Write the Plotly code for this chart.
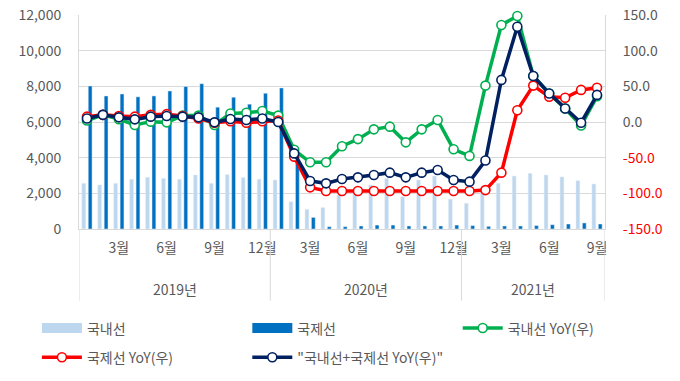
import plotly.graph_objects as go

# ---- data ----
months = [f"{y}-{m:02d}" for y in (2019, 2020) for m in range(1, 13)] + [f"2021-{m:02d}" for m in range(1, 10)]
tick_idx = [2, 5, 8, 11, 14, 17, 20, 23, 26, 29, 32]
tick_text = ["3월", "6월", "9월", "12월", "3월", "6월", "9월", "12월", "3월", "6월", "9월"]
years = ["2019년", "2020년", "2021년"]
year_start = [0, 12, 24]
year_len = [12, 12, 9]

domestic = [2560, 2470, 2560, 2790, 2900, 2840, 2790, 3030, 2560, 3050, 2880, 2790,
            2750, 1530, 1100, 1200, 1900, 2150, 2470, 2840, 1810, 2750, 2970, 1680,
            1440, 2300, 2560, 2970, 3120, 3030, 2920, 2710, 2520]
international = [8020, 7460, 7570, 7410, 7460, 7740, 7990, 8150, 6830, 7390, 7000, 7610,
                 7910, 3850, 650, 130, 130, 170, 220, 220, 170, 170, 170, 220,
                 190, 150, 170, 170, 190, 240, 280, 340, 280]
dom_yoy = [2, 10, 4, -4.2, 0.5, -0.5, 9, 9, -4.2, 12, 13, 15.4,
           9, -39, -56.5, -56.5, -34, -24, -10.3, -6.5, -28.5, -10.3, 2.8, -38.3,
           -47.5, 51, 136, 148.6, 64.5, 40, 19, -5, 36]
int_yoy = [7.5, 10, 8.4, 7.5, 10, 11, 8.4, 5, -1, 1, -1, 1,
           2, -48.6, -91.6, -96.7, -96.8, -96.8, -96.8, -96.8, -96.8, -96.8, -96.8, -96.8,
           -96.7, -95.5, -71, 16.4, 51, 35.5, 34, 45, 48]
tot_yoy = [5, 10, 6.5, 3.7, 7.5, 8.4, 7.5, 6.5, -0.5, 4.2, 2.8, 5,
           0, -44, -82.7, -86, -80, -77.6, -74.3, -71, -77.6, -71, -67.3, -81.3,
           -83.6, -54, 59, 133.6, 64.5, 40, 19, -1, 38]

left_ticks = [0, 2000, 4000, 6000, 8000, 10000, 12000]
right_ticks = [-150, -100, -50, 0, 50, 100, 150]

x = list(range(len(months)))
GRAY = "#595959"
FONT = "Noto Sans CJK KR"
C_DOM, C_INT = "#BDD7EE", "#0070C0"

fig = go.Figure()
fig.add_trace(go.Bar(x=x, y=domestic, name="국내선", marker_color=C_DOM, yaxis="y",
                     showlegend=False, legendgroup="dom"))
fig.add_trace(go.Bar(x=x, y=international, name="국제선", marker_color=C_INT, yaxis="y",
                     showlegend=False, legendgroup="int"))

def line(vals, name, color, legend, group):
    return go.Scatter(x=x, y=vals, name=name, yaxis="y2", mode="lines+markers",
                      legend=legend, legendgroup=group, cliponaxis=False,
                      line=dict(color=color, width=3.5),
                      marker=dict(size=9, color="white", line=dict(color=color, width=1.6)))

fig.add_trace(line(dom_yoy, "국내선 YoY(우)", "#00B050", "legend3", "g3"))
fig.add_trace(line(int_yoy, "국제선 YoY(우)", "#FF0000", "legend", "g4"))
fig.add_trace(line(tot_yoy, "\"국내선+국제선 YoY(우)\"", "#002060", "legend2", "g5"))

# legend swatches for the bar series (wide rectangles as in the original)
fig.add_trace(go.Scatter(x=[None], y=[None], name="국내선", mode="lines", legend="legend",
                         legendgroup="dom", legendrank=1, line=dict(color=C_DOM, width=12)))
fig.add_trace(go.Scatter(x=[None], y=[None], name="국제선", mode="lines", legend="legend2",
                         legendgroup="int", legendrank=1, line=dict(color=C_INT, width=12)))

right_text = [(f'<span style="color:#FF0000">{v:.1f}</span>' if v < 0 else f"{v:.1f}") for v in right_ticks]

shapes = []
bounds = [year_start[0] - 0.5] + [s + l - 0.5 for s, l in zip(year_start, year_len)]
for b in bounds:
    shapes.append(dict(type="line", xref="x", yref="paper", x0=b, x1=b, y0=0, y1=-0.335,
                       line=dict(color="#D9D9D9", width=1)))

annotations = []
for name, s, l in zip(years, year_start, year_len):
    annotations.append(dict(x=s + (l - 1) / 2, y=-0.28, xref="x", yref="paper", text=name,
                            showarrow=False, font=dict(family=FONT, size=14, color=GRAY),
                            yanchor="middle"))

leg_common = dict(orientation="v", xanchor="left", yanchor="top", y=-0.39,
                  font=dict(family=FONT, size=14, color=GRAY), traceorder="grouped",
                  tracegroupgap=8, bgcolor="rgba(0,0,0,0)", itemwidth=40)

fig.update_layout(
    width=680, height=381, autosize=False,
    margin=dict(l=79, r=75, t=15, b=152, autoexpand=False),
    paper_bgcolor="white", plot_bgcolor="white",
    barmode="group", bargap=0.2, bargroupgap=0.4,
    font=dict(family=FONT, size=14, color=GRAY),
    xaxis=dict(range=[-0.5, len(months) - 0.5], tickmode="array", tickvals=tick_idx,
               ticktext=tick_text, showgrid=False, showline=True, linecolor="#D9D9D9",
               ticks="", ticklabelstandoff=6, tickfont=dict(size=14, color=GRAY), zeroline=False),
    yaxis=dict(range=[0, 12000], tickvals=left_ticks, tickformat=",", showgrid=True,
               gridcolor="#D9D9D9", showline=True, linecolor="#D9D9D9", zeroline=False,
               ticks="", ticklabelstandoff=14, ticklabeloverflow="allow",
               tickfont=dict(size=14, color=GRAY)),
    yaxis2=dict(range=[-150, 150], overlaying="y", side="right", tickvals=right_ticks,
                ticktext=right_text, showgrid=False, showline=True, linecolor="#D9D9D9",
                zeroline=False, ticks="", ticklabelstandoff=14, ticklabeloverflow="allow",
                tickfont=dict(size=14, color=GRAY)),
    legend=dict(x=-0.08, **leg_common),
    legend2=dict(x=0.32, **leg_common),
    legend3=dict(x=0.72, **leg_common),
    shapes=shapes, annotations=annotations,
)

# remove the default 8px page margin so the figure sits at the window's top-left corner
fig.write_html("out.html", config={"displayModeBar": False},
               post_script="document.body.style.margin='0';")
